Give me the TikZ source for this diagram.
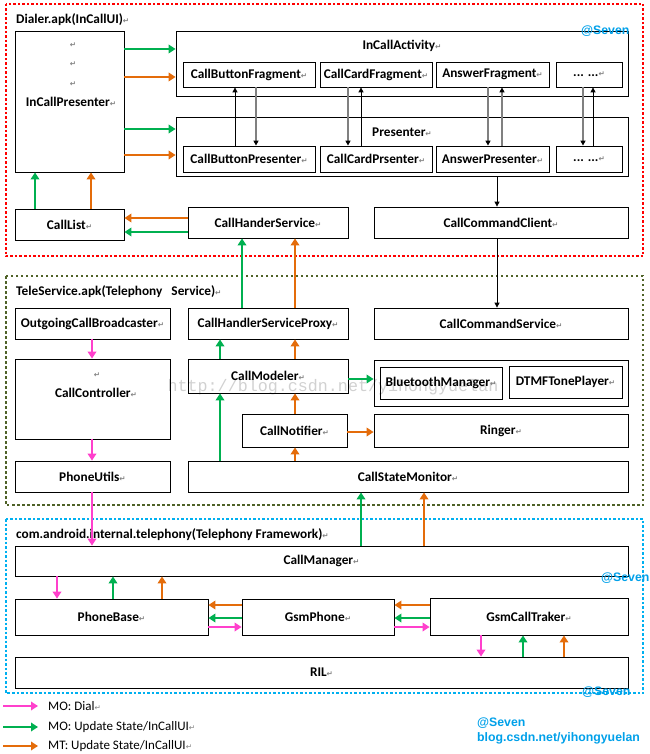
\documentclass[tikz,border=0pt]{standalone}
\usepackage{fontspec}
\setmainfont{Carlito}
\newfontfamily\dejavu{DejaVu Sans}
\newfontfamily\libsans{Liberation Sans}
\newfontfamily\wmfont{Liberation Mono}
\usetikzlibrary{arrows.meta}
\definecolor{pinkc}{RGB}{255,64,204}
\definecolor{greenc}{RGB}{0,176,80}
\definecolor{orangec}{RGB}{228,108,10}
\definecolor{redc}{RGB}{255,0,0}
\definecolor{olivec}{RGB}{79,98,40}
\definecolor{bluec}{RGB}{0,176,240}
\definecolor{sevenc}{RGB}{0,160,233}
\newcommand\pmk{{\dejavu\fontsize{7.5}{8}\selectfont\color{gray}↵}}
\newcommand\bx[6]{%
  \pgfmathsetmacro\bxw{#4-#2}\pgfmathsetmacro\bxh{#5-#3}%
  \node[box,minimum width=\bxw pt,minimum height=\bxh pt] (#1) at ({(#2+#4)/2},{(#3+#5)/2}) {#6};}
\tikzset{
  box/.style={draw,line width=0.8pt,inner sep=0pt,font=\bfseries\fontsize{13.3}{15}\selectfont},
  lbl/.style={inner sep=0pt,font=\bfseries\fontsize{13.3}{15}\selectfont},
  grp/.style={inner sep=0pt,anchor=west,font=\bfseries\fontsize{13.3}{15}\selectfont},
  leg/.style={inner sep=0pt,anchor=west,font=\fontsize{13}{14}\selectfont},
  arr/.style={line width=2.8pt,-{Triangle[length=7pt,width=8.5pt]}},
  blk/.style={line width=0.8pt,-{Triangle[length=5pt,width=5pt]}},
  gry/.style={draw=black!50,line width=1.3pt,-{Triangle[length=5pt,width=5pt,color=black]}},
  seven/.style={inner sep=0pt,anchor=west,text=sevenc,font=\libsans\bfseries\fontsize{12.3}{13}\selectfont},
}
\begin{document}
\begin{tikzpicture}[x=1pt,y=-1pt]
\useasboundingbox (0,0) rectangle (649,754);
% watermark
\node[text=black!18,inner sep=0pt,font=\wmfont\fontsize{16.7}{17}\selectfont] (wm) at (333,387) {http://blog.csdn.net/yihongyuelan};
% group frames
\draw[redc,line width=2.5pt,dash pattern=on 2.5pt off 2pt] (6,4) rectangle (643,256);
\draw[olivec,line width=2.5pt,dash pattern=on 2.5pt off 2.5pt] (6,276) rectangle (643,505);
\draw[bluec,line width=2.5pt,dash pattern=on 2.5pt off 2pt] (6,519) rectangle (643,693);
\node[grp] (g1) at (16,20) {Dialer.apk(InCallUI)\pmk};
\node[grp] (g2) at (16,292) {TeleService.apk(Telephony\ \ \ Service)\pmk};
\node[grp] (g3) at (16,535) {com.android.internal.telephony(Telephony Framework)\pmk};
% Dialer
\bx{icp}{15}{31}{124}{172}{}
\node[lbl] (icpm1) at (73,45) {\pmk};
\node[lbl] (icpm2) at (73,64) {\pmk};
\node[lbl] (icpm3) at (73,84) {\pmk};
\node[lbl] (icpL) at (71,102) {InCallPresenter\pmk};
\bx{ica}{176}{31}{628}{96}{}
\node[lbl] (icaL) at (402,46) {InCallActivity\pmk};
\bx{cbf}{183}{62}{315}{87}{CallButtonFragment\pmk}
\bx{ccf}{320}{62}{432}{87}{CallCardFragment\pmk}
\bx{af}{436}{62}{549}{87}{AnswerFragment\pmk}
\bx{df}{556}{62}{622}{87}{... ...\pmk}
\bx{pres}{176}{117}{628}{176}{}
\node[lbl] (presL) at (402,132) {Presenter\pmk};
\bx{cbp}{183}{146}{315}{172}{CallButtonPresenter\pmk}
\bx{ccp}{320}{146}{432}{172}{CallCardPrsenter\pmk}
\bx{ap}{436}{146}{549}{172}{AnswerPresenter\pmk}
\bx{dp}{556}{146}{622}{172}{... ...\pmk}
\bx{cl}{15}{209}{124}{240}{CallList\pmk}
\bx{chs}{188}{207}{348}{238}{CallHanderService\pmk}
\bx{ccc}{374}{207}{628}{238}{CallCommandClient\pmk}
% TeleService
\bx{ocb}{15}{308}{170}{339}{OutgoingCallBroadcaster\pmk}
\bx{cc}{15}{359}{170}{439}{}
\node[lbl] (ccm) at (97,375) {\pmk};
\node[lbl] (ccL) at (96,393) {CallController\pmk};
\bx{pu}{15}{461}{170}{492}{PhoneUtils\pmk}
\bx{chsp}{188}{308}{348}{339}{CallHandlerServiceProxy\pmk}
\bx{cm}{188}{359}{348}{393}{CallModeler\pmk}
\bx{cn}{242}{414}{347}{447}{CallNotifier\pmk}
\bx{csm}{188}{461}{628}{492}{CallStateMonitor\pmk}
\bx{ccs}{374}{308}{628}{339}{CallCommandService\pmk}
\bx{btbox}{374}{360}{628}{406}{}
\bx{btm}{380}{367}{502}{399}{BluetoothManager\pmk}
\bx{dtmf}{509}{366}{622}{398}{DTMFTonePlayer\pmk}
\bx{ringer}{374}{414}{628}{447}{Ringer\pmk}
% Framework
\bx{callman}{15}{546}{628}{576}{CallManager\pmk}
\bx{pb}{15}{599}{208}{635}{PhoneBase\pmk}
\bx{gp}{242}{599}{394}{635}{GsmPhone\pmk}
\bx{gct}{430}{598}{628}{635}{GsmCallTraker\pmk}
\bx{ril}{15}{657}{628}{688}{RIL\pmk}
% black / gray arrows
\draw[blk] (cbp.north -| 235,0) -- (cbf.south -| 235,0);
\draw[gry] (cbf.south -| 256,0) -- (cbp.north -| 256,0);
\draw[gry] (ccf.south -| 348,0) -- (ccp.north -| 348,0);
\draw[blk] (ccp.north -| 361,0) -- (ccf.south -| 361,0);
\draw[gry] (af.south -| 488,0) -- (ap.north -| 488,0);
\draw[gry] (ap.north -| 502,0) -- (af.south -| 502,0);
\draw[gry] (df.south -| 583,0) -- (dp.north -| 583,0);
\draw[blk] (dp.north -| 593,0) -- (df.south -| 593,0);
\draw[blk] (pres.south -| 497,0) -- (ccc.north -| 497,0);
\draw[blk] (ccc.south -| 497,0) -- (ccs.north -| 497,0);
% colored arrows - Dialer
\draw[arr,greenc] (icp.east |- 0,49) -- (ica.west |- 0,49);
\draw[arr,orangec] (icp.east |- 0,77) -- (ica.west |- 0,77);
\draw[arr,greenc] (icp.east |- 0,129) -- (pres.west |- 0,129);
\draw[arr,orangec] (icp.east |- 0,155) -- (pres.west |- 0,155);
\draw[arr,greenc] (cl.north -| 35,0) -- (icp.south -| 35,0);
\draw[arr,orangec] (cl.north -| 91,0) -- (icp.south -| 91,0);
\draw[arr,orangec] (chs.west |- 0,218) -- (cl.east |- 0,218);
\draw[arr,greenc] (chs.west |- 0,232) -- (cl.east |- 0,232);
\draw[arr,greenc] (chsp.north -| 242,0) -- (chs.south -| 242,0);
\draw[arr,orangec] (chsp.north -| 295,0) -- (chs.south -| 295,0);
% TeleService
\draw[arr,greenc] (cm.north -| 220,0) -- (chsp.south -| 220,0);
\draw[arr,orangec] (cm.north -| 295,0) -- (chsp.south -| 295,0);
\draw[arr,greenc] (csm.north -| 220,0) -- (cm.south -| 220,0);
\draw[arr,orangec] (cn.north -| 295,0) -- (cm.south -| 295,0);
\draw[arr,orangec] (csm.north -| 295,0) -- (cn.south -| 295,0);
\draw[arr,greenc] (cm.east |- 0,379) -- (btbox.west |- 0,379);
\draw[arr,orangec] (cn.east |- 0,432) -- (ringer.west |- 0,432);
\draw[arr,pinkc] (ocb.south -| 92,0) -- (cc.north -| 92,0);
\draw[arr,pinkc] (cc.south -| 92,0) -- (pu.north -| 92,0);
\draw[arr,pinkc] (pu.south -| 92,0) -- (callman.north -| 92,0);
\draw[arr,greenc] (callman.north -| 361,0) -- (csm.south -| 361,0);
\draw[arr,orangec] (callman.north -| 424,0) -- (csm.south -| 424,0);
% Framework
\draw[arr,pinkc] (callman.south -| 57,0) -- (pb.north -| 57,0);
\draw[arr,greenc] (pb.north -| 113,0) -- (callman.south -| 113,0);
\draw[arr,orangec] (pb.north -| 162,0) -- (callman.south -| 162,0);
\draw[arr,orangec] (gp.west |- 0,605) -- (pb.east |- 0,605);
\draw[arr,greenc] (gp.west |- 0,618) -- (pb.east |- 0,618);
\draw[arr,pinkc] (pb.east |- 0,627) -- (gp.west |- 0,627);
\draw[arr,orangec] (gct.west |- 0,605) -- (gp.east |- 0,605);
\draw[arr,greenc] (gct.west |- 0,618) -- (gp.east |- 0,618);
\draw[arr,pinkc] (gp.east |- 0,627) -- (gct.west |- 0,627);
\draw[arr,pinkc] (gct.south -| 481,0) -- (ril.north -| 481,0);
\draw[arr,greenc] (ril.north -| 523,0) -- (gct.south -| 523,0);
\draw[arr,orangec] (ril.north -| 564,0) -- (gct.south -| 564,0);
% watermarks
\node[seven] (s1) at (581,31) {@Seven};
\node[seven] (s2) at (601,578) {@Seven};
\node[seven] (s3) at (582,692) {@Seven};
\node[seven] (s4) at (477,723) {@Seven};
\node[seven] (s5) at (477,738) {blog.csdn.net/yihongyuelan};
% legend
\coordinate (l1a) at (3,706); \coordinate (l1b) at (38,706);
\coordinate (l2a) at (3,727); \coordinate (l2b) at (38,727);
\coordinate (l3a) at (3,746); \coordinate (l3b) at (38,746);
\draw[arr,pinkc] (l1a) -- (l1b);
\draw[arr,greenc] (l2a) -- (l2b);
\draw[arr,orangec] (l3a) -- (l3b);
\node[leg] (t1) at (48,706) {MO: Dial\pmk};
\node[leg] (t2) at (48,727) {MO: Update State/InCallUI\pmk};
\node[leg] (t3) at (48,746) {MT: Update State/InCallUI\pmk};
\end{tikzpicture}
\end{document}
